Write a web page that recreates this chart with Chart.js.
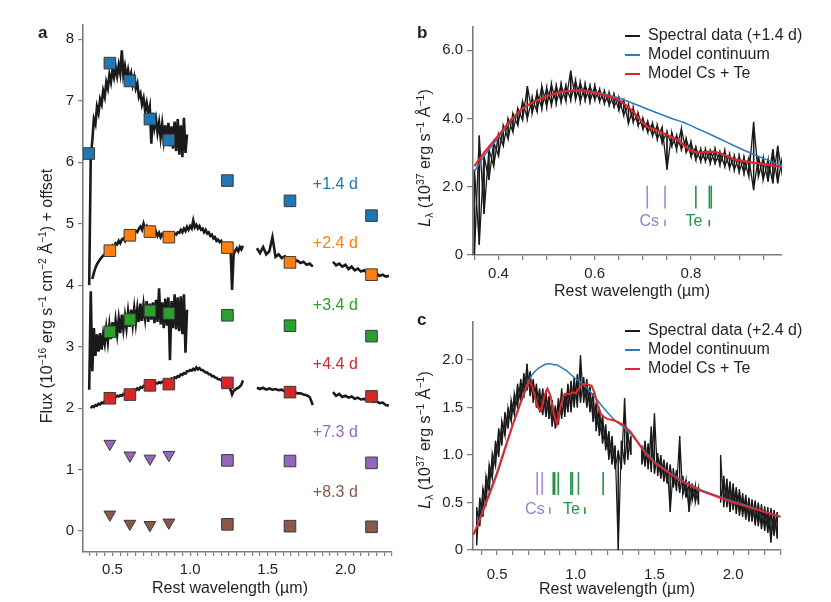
<!DOCTYPE html>
<html>
<head>
<meta charset="utf-8">
<title>Spectra and photometry</title>
<script src="https://cdn.jsdelivr.net/npm/chart.js@4.4.1/dist/chart.umd.min.js"></script>
<style>
  html, body { margin: 0; padding: 0; background: #fff; }
  #figure { position: relative; width: 831px; height: 602px; overflow: hidden;
            font-family: "Liberation Sans", Arial, Helvetica, sans-serif; color: #231f20; }
  #figure canvas { position: absolute; }
  .panel { position: absolute; font-weight: bold; font-size: 17px; line-height: 18px; }
  .xtitle, .ytitle { position: absolute; white-space: nowrap; font-size: 16px; line-height: 18px; }
  .xtitle { transform: translate(-50%, -50%); }
  .ytitle { transform: translate(-50%, -50%) rotate(-90deg); }
  sup { font-size: 0.65em; vertical-align: 0.55em; line-height: 0; }
  sub { font-size: 0.65em; vertical-align: -0.3em; line-height: 0; }
  .key { position: absolute; left: 625px; white-space: nowrap; font-size: 16px; line-height: 18px; transform: translateY(-50%); }
  .key i { display: inline-block; width: 15px; height: 1.6px; vertical-align: middle; margin-right: 8px; }
</style>
</head>
<body>
<div id="figure">
  <canvas id="chartA" width="410" height="602" style="left:0;top:0"></canvas>
  <canvas id="chartB" width="421" height="300" style="left:410px;top:0"></canvas>
  <canvas id="chartC" width="421" height="302" style="left:410px;top:300px"></canvas>

  <div class="panel" style="left:38px;top:24px">a</div>
  <div class="panel" style="left:417px;top:24px">b</div>
  <div class="panel" style="left:417px;top:311px">c</div>

  <div class="ytitle" style="left:47px;top:296px">Flux (10<sup>−16</sup> erg s<sup>−1</sup> cm<sup>−2</sup> Å<sup>−1</sup>) + offset</div>
  <div class="xtitle" style="left:230px;top:588px">Rest wavelength (µm)</div>

  <div class="ytitle" style="left:425px;top:158px"><i>L</i><sub>λ</sub> (10<sup>37</sup> erg s<sup>−1</sup> Å<sup>−1</sup>)</div>
  <div class="xtitle" style="left:632px;top:291px">Rest wavelength (µm)</div>
  <div class="key" style="top:35px"><i style="background:#1a1a1a"></i>Spectral data (+1.4 d)</div>
  <div class="key" style="top:54px"><i style="background:#2b7bba"></i>Model continuum</div>
  <div class="key" style="top:73px"><i style="background:#e3262b"></i>Model Cs + Te</div>

  <div class="ytitle" style="left:425px;top:440px"><i>L</i><sub>λ</sub> (10<sup>37</sup> erg s<sup>−1</sup> Å<sup>−1</sup>)</div>
  <div class="xtitle" style="left:617px;top:589px">Rest wavelength (µm)</div>
  <div class="key" style="top:330px"><i style="background:#1a1a1a"></i>Spectral data (+2.4 d)</div>
  <div class="key" style="top:349px"><i style="background:#2b7bba"></i>Model continuum</div>
  <div class="key" style="top:368px"><i style="background:#e3262b"></i>Model Cs + Te</div>
</div>

<script>
// ---------- panel a: photometry (squares, triangles = upper limits) ----------
const filterWave = [0.347, 0.483, 0.612, 0.741, 0.863, 1.240, 1.643, 2.168];
const phot14 = [6.14, 7.61, 7.32, 6.70, 6.36, 5.70, 5.37, 5.13];
const phot24 = [null, 4.56, 4.81, 4.87, 4.78, 4.61, 4.37, 4.17];
const phot34 = [null, 3.24, 3.44, 3.58, 3.54, 3.51, 3.34, 3.17];
const phot44 = [null, 2.16, 2.22, 2.37, 2.39, 2.41, 2.26, 2.19];
const phot73 = [null, 1.42, 1.23, 1.18, 1.24, 1.15, 1.14, 1.11];
const phot83 = [null, 0.27, 0.12, 0.10, 0.14, 0.11, 0.08, 0.07];
const upperLimit = [false, true, true, true, true, false, false, false];
const epochLabels = ['+1.4 d', '+2.4 d', '+3.4 d', '+4.4 d', '+7.3 d', '+8.3 d'];

// ---------- panel a: spectra (offset flux) ----------
const waveOptA = [0.35, 0.36, 0.37, 0.38, 0.39, 0.40, 0.41, 0.42, 0.43, 0.44,
                  0.45, 0.46, 0.47, 0.48, 0.49, 0.50, 0.51, 0.52, 0.53, 0.54,
                  0.55, 0.56, 0.57, 0.58, 0.59, 0.60, 0.61, 0.62, 0.63, 0.64,
                  0.65, 0.66, 0.67, 0.68, 0.69, 0.70, 0.71, 0.72, 0.73, 0.74,
                  0.75, 0.76, 0.77, 0.78, 0.79, 0.80, 0.81, 0.82, 0.83, 0.84,
                  0.85, 0.86, 0.87, 0.88, 0.89, 0.90, 0.91, 0.92, 0.93, 0.94,
                  0.95, 0.96, 0.97, 0.98];
const waveExtA = [0.99, 1.00, 1.01, 1.02, 1.03, 1.04, 1.05, 1.06, 1.07, 1.08,
                  1.09, 1.10, 1.11, 1.12, 1.13, 1.14, 1.15, 1.16, 1.17, 1.18,
                  1.19, 1.20, 1.21, 1.22, 1.23, 1.24, 1.25, 1.26, 1.27, 1.28,
                  1.29, 1.30, 1.31, 1.32, 1.33, 1.34];
const waveHA = [1.43, 1.45, 1.47, 1.49, 1.51, 1.53, 1.55, 1.57, 1.59, 1.61,
                1.63, 1.65, 1.67, 1.69, 1.71, 1.73, 1.75, 1.77, 1.79];
const waveKA = [1.92, 1.94, 1.96, 1.98, 2.00, 2.02, 2.04, 2.06, 2.08, 2.10,
                2.12, 2.14, 2.16, 2.18, 2.20, 2.22, 2.24, 2.26, 2.28];

const flux14 = [4.0, 6.1, 6.35, 6.7, 6.62, 6.9, 6.8, 7.02, 6.94, 7.16,
                7.06, 7.3, 7.2, 7.42, 7.3, 7.5, 7.38, 7.55, 7.4, 7.58,
                7.44, 7.82, 7.42, 7.56, 7.38, 7.5, 7.33, 7.44, 7.26, 7.38,
                7.2, 7.28, 7.06, 7.12, 6.94, 7.04, 6.84, 6.96, 6.78, 6.9,
                6.3, 6.8, 6.56, 6.7, 6.48, 6.64, 6.4, 6.62, 6.36, 6.6,
                6.3, 6.64, 6.26, 6.58, 6.22, 6.66, 6.18, 6.7, 6.12, 6.6,
                6.08, 6.72, 6.15, 6.45];

const flux24Opt = [null, null, 4.1, 4.2, 4.28, 4.34, 4.38, 4.42, 4.45, 4.48,
                   4.5, 4.55, 4.52, 4.58, 4.6, 4.64, 4.6, 4.68, 4.66, 4.72,
                   4.68, 4.74, 4.76, 4.72, 4.8, 4.76, 4.82, 4.8, 4.86, 4.84,
                   4.88, 4.86, 4.92, 4.95, 4.9, 5.0, 4.92, 4.96, 4.9, 4.93,
                   4.86, 4.9, 4.84, 4.87, 4.8, 4.85, 4.78, 4.83, 4.8, 4.82,
                   4.76, 4.82, 4.78, 4.81, 4.8, 4.84, 4.82, 4.86, 4.85, 4.9,
                   4.86, 4.92, 4.88, 4.95];
const flux24Ext = [4.9, 4.96, 4.92, 5.05, 4.94, 4.98, 4.92, 4.96, 4.9, 4.92,
                   4.86, 4.9, 4.84, 4.86, 4.8, 4.82, 4.76, 4.78, 4.72, 4.74,
                   4.7, 4.72, 4.66, 4.68, 4.62, 4.66, 4.6, 4.62, 3.92, 4.5,
                   4.56, 4.6, 4.55, 4.62, 4.58, 4.64];
const flux24H = [4.6, 4.52, 4.62, 4.5, 4.55, 4.78, 4.46, 4.5, 4.44, 4.47,
                 4.4, 4.44, 4.38, 4.4, 4.36, 4.38, 4.33, 4.35, 4.3];
const flux24K = [4.38, 4.32, 4.35, 4.3, 4.33, 4.26, 4.3, 4.24, 4.27, 4.22,
                 4.24, 4.2, 4.21, 4.17, 4.19, 4.15, 4.17, 4.14, 4.15];

const flux34 = [2.3, 3.9, 2.6, 3.3, 2.85, 3.2, 2.92, 3.22, 2.95, 3.2,
                3.05, 3.3, 3.08, 3.35, 3.12, 3.4, 3.15, 3.42, 3.2, 3.45,
                3.22, 3.52, 3.28, 3.5, 3.3, 3.56, 3.32, 3.6, 3.36, 3.62,
                3.38, 3.62, 3.4, 3.7, 3.42, 3.68, 3.46, 3.74, 3.4, 3.7,
                3.44, 3.72, 3.38, 3.76, 3.4, 3.95, 3.36, 3.72, 3.3, 3.78,
                3.34, 3.8, 2.78, 3.74, 3.3, 3.85, 3.28, 3.8, 3.25, 3.82,
                3.2, 3.85, 2.9, 3.6];

const flux44Opt = [null, 2.0, 2.03, 2.02, 2.05, 2.04, 2.07, 2.06, 2.09, 2.08,
                   2.11, 2.1, 2.14, 2.13, 2.16, 2.15, 2.17, 2.18, 2.2, 2.19,
                   2.21, 2.2, 2.23, 2.22, 2.25, 2.24, 2.26, 2.28, 2.27, 2.3,
                   2.29, 2.32, 2.3, 2.34, 2.33, 2.36, 2.34, 2.38, 2.36, 2.39,
                   2.38, 2.4, 2.39, 2.41, 2.4, 2.42, 2.41, 2.43, 2.42, 2.45,
                   2.43, 2.46, 2.44, 2.48, 2.46, 2.5, 2.49, 2.52, 2.51, 2.55,
                   2.54, 2.57, 2.56, 2.6];
const flux44Ext = [2.6, 2.62, 2.61, 2.64, 2.62, 2.66, 2.63, 2.65, 2.62, 2.62,
                   2.6, 2.58, 2.58, 2.55, 2.55, 2.52, 2.52, 2.5, 2.49, 2.47,
                   2.47, 2.45, 2.44, 2.43, 2.42, 2.4, 2.36, 2.3, 2.22, 2.28,
                   2.3, 2.32, 2.33, 2.35, 2.38, 2.45];
const flux44H = [2.33, 2.31, 2.33, 2.3, 2.32, 2.3, 2.31, 2.29, 2.3, 2.27,
                 2.28, 2.26, 2.27, 2.24, 2.24, 2.22, 2.21, 2.18, 2.05];
const flux44K = [2.26, 2.2, 2.23, 2.18, 2.2, 2.17, 2.19, 2.15, 2.17, 2.14,
                 2.15, 2.12, 2.13, 2.1, 2.11, 2.08, 2.09, 2.05, 2.04];

// ---------- panel b: +1.4 d spectrum (noise envelope) and models ----------
const waveB = [0.35, 0.36, 0.37, 0.38, 0.39, 0.40, 0.41, 0.42, 0.43, 0.44,
               0.45, 0.46, 0.47, 0.48, 0.49, 0.50, 0.51, 0.52, 0.53, 0.54,
               0.55, 0.56, 0.57, 0.58, 0.59, 0.60, 0.61, 0.62, 0.63, 0.64,
               0.65, 0.66, 0.67, 0.68, 0.69, 0.70, 0.71, 0.72, 0.73, 0.74,
               0.75, 0.76, 0.77, 0.78, 0.79, 0.80, 0.81, 0.82, 0.83, 0.84,
               0.85, 0.86, 0.87, 0.88, 0.89, 0.90, 0.91, 0.92, 0.93, 0.94,
               0.95, 0.96, 0.97, 0.98, 0.99];
const lowB = [0.0, 0.3, 1.2, 2.2, 2.6, 2.9, 3.2, 3.4, 3.6, 3.8,
              3.95, 4.0, 4.15, 4.2, 4.3, 4.35, 4.4, 4.45, 4.5, 4.5,
              4.55, 4.55, 4.5, 4.55, 4.5, 4.55, 4.5, 4.45, 4.4, 4.35,
              4.25, 4.1, 3.85, 3.9, 3.8, 3.7, 3.6, 3.5, 3.4, 3.3,
              2.5, 3.2, 3.1, 3.1, 3.0, 2.9, 2.8, 2.75, 2.75, 2.7,
              2.7, 2.65, 2.6, 2.55, 2.5, 2.45, 2.4, 2.3, 1.9, 2.3,
              2.2, 2.15, 2.1, 2.1, 2.3];
const highB = [2.5, 3.5, 2.9, 3.1, 3.3, 3.55, 3.8, 4.0, 4.15, 4.3,
               4.5, 4.95, 4.6, 4.75, 4.95, 4.9, 5.0, 4.95, 5.0, 4.95,
               5.4, 5.1, 5.05, 5.0, 4.95, 4.95, 4.85, 4.8, 4.75, 4.7,
               4.6, 4.55, 4.4, 4.3, 4.15, 4.0, 3.9, 3.85, 3.8, 3.75,
               3.6, 3.6, 3.5, 3.7, 3.4, 3.3, 3.15, 3.1, 3.1, 3.05,
               3.1, 3.0, 3.05, 2.95, 2.9, 2.9, 2.85, 2.85, 3.9, 2.9,
               2.85, 2.8, 3.1, 3.2, 2.9];
const modelWaveB = [0.35, 0.37, 0.40, 0.425, 0.45, 0.475, 0.50, 0.53, 0.56, 0.58,
                    0.60, 0.62, 0.645, 0.66, 0.68, 0.695, 0.71, 0.73, 0.745, 0.76,
                    0.775, 0.785, 0.80, 0.815, 0.83, 0.845, 0.86, 0.875, 0.89, 0.91,
                    0.93, 0.95, 0.97, 0.99];
const continuumB = [2.45, 2.9, 3.45, 3.92, 4.28, 4.5, 4.65, 4.78, 4.83, 4.82,
                    4.78, 4.72, 4.62, 4.55, 4.44, 4.36, 4.27, 4.16, 4.08, 4.0,
                    3.93, 3.88, 3.79, 3.69, 3.6, 3.5, 3.4, 3.3, 3.2, 3.07,
                    2.95, 2.83, 2.72, 2.6];
const csTeB = [2.6, 3.0, 3.5, 3.95, 4.3, 4.5, 4.65, 4.78, 4.82, 4.8,
               4.75, 4.68, 4.58, 4.45, 4.2, 3.95, 3.75, 3.65, 3.55, 3.45,
               3.35, 3.22, 3.05, 3.0, 3.02, 3.03, 2.98, 2.9, 2.8, 2.75,
               2.7, 2.67, 2.62, 2.58];
const csLinesB = [0.709, 0.746];
const teLinesB = [0.810, 0.838, 0.842];

// ---------- panel c: +2.4 d spectrum (noise envelope) and models ----------
const waveC1 = [0.37, 0.39, 0.41, 0.43, 0.45, 0.47, 0.49, 0.51, 0.53, 0.55,
                0.57, 0.59, 0.61, 0.63, 0.65, 0.67, 0.69, 0.71, 0.73, 0.75,
                0.77, 0.79, 0.81, 0.83, 0.85, 0.87, 0.89, 0.91, 0.93, 0.95,
                0.97, 0.99, 1.01, 1.03, 1.05, 1.07, 1.09, 1.11, 1.13, 1.15,
                1.17, 1.19, 1.21, 1.23, 1.25, 1.27, 1.29, 1.31, 1.33, 1.35];
const lowC1 = [0.05, 0.25, 0.35, 0.5, 0.62, 0.75, 0.88, 0.98, 1.1, 1.2,
               1.28, 1.35, 1.42, 1.5, 1.55, 1.6, 1.68, 1.62, 1.55, 1.5,
               1.45, 1.42, 1.4, 1.38, 1.3, 1.28, 1.32, 1.38, 1.4, 1.45,
               1.45, 1.5, 1.5, 1.55, 1.55, 1.5, 1.45, 1.35, 1.25, 1.2,
               1.12, 1.05, 0.95, 0.9, 0.85, 0.0, 0.85, 0.9, 0.95, 1.0];
const highC1 = [0.45, 0.55, 0.65, 0.78, 0.9, 1.02, 1.15, 1.28, 1.36, 1.45,
                1.5, 1.58, 1.65, 1.75, 1.8, 1.86, 1.96, 1.88, 1.8, 1.75,
                1.7, 1.7, 1.68, 1.62, 1.58, 1.52, 1.6, 1.7, 1.65, 1.75,
                1.78, 1.82, 1.85, 2.05, 1.82, 1.8, 1.72, 1.65, 1.55, 1.5,
                1.42, 1.32, 1.25, 1.2, 1.1, 1.05, 1.15, 1.6, 1.25, 1.2];
const waveC2 = [1.42, 1.44, 1.46, 1.48, 1.50, 1.52, 1.54, 1.56, 1.58, 1.60,
                1.62, 1.64, 1.66, 1.68, 1.70, 1.72, 1.74, 1.76, 1.78];
const lowC2 = [0.9, 0.88, 0.85, 0.82, 0.8, 0.78, 0.75, 0.72, 0.7, 0.4,
               0.66, 0.62, 0.6, 0.58, 0.55, 0.4, 0.52, 0.5, 0.48];
const highC2 = [1.1, 1.15, 1.12, 1.3, 1.44, 1.02, 1.0, 0.95, 0.92, 0.9,
                0.86, 0.84, 1.2, 0.78, 0.74, 0.72, 0.7, 0.68, 0.66];
const waveC3 = [1.92, 1.94, 1.96, 1.98, 2.00, 2.02, 2.04, 2.06, 2.08, 2.10,
                2.12, 2.14, 2.16, 2.18, 2.20, 2.22, 2.24, 2.26, 2.28];
const lowC3 = [0.5, 0.45, 0.45, 0.4, 0.42, 0.38, 0.36, 0.35, 0.32, 0.3,
               0.3, 0.26, 0.25, 0.22, 0.2, 0.18, 0.08, 0.15, 0.12];
const highC3 = [1.0, 0.78, 0.75, 0.72, 0.7, 0.66, 0.64, 0.6, 0.58, 0.55,
                0.53, 0.52, 0.5, 0.48, 0.46, 0.45, 0.44, 0.42, 0.4];
const modelWaveC = [0.35, 0.40, 0.45, 0.50, 0.55, 0.60, 0.65, 0.68, 0.70, 0.72,
                    0.74, 0.76, 0.78, 0.80, 0.82, 0.84, 0.86, 0.88, 0.90, 0.92,
                    0.94, 0.96, 0.98, 1.00, 1.02, 1.04, 1.06, 1.08, 1.10, 1.12,
                    1.14, 1.16, 1.18, 1.20, 1.25, 1.30, 1.35, 1.40, 1.45, 1.50,
                    1.60, 1.70, 1.80, 1.90, 2.00, 2.10, 2.20, 2.30];
const continuumC = [0.16, 0.38, 0.6, 0.82, 1.08, 1.32, 1.56, 1.7, 1.78, 1.84,
                    1.88, 1.91, 1.93, 1.95, 1.96, 1.96, 1.95, 1.95, 1.93, 1.91,
                    1.89, 1.86, 1.83, 1.8, 1.78, 1.75, 1.72, 1.69, 1.65, 1.61,
                    1.57, 1.53, 1.49, 1.45, 1.36, 1.3, 1.22, 1.12, 1.02, 0.93,
                    0.81, 0.71, 0.63, 0.57, 0.51, 0.46, 0.4, 0.35];
const csTeC = [0.16, 0.36, 0.58, 0.8, 1.06, 1.32, 1.55, 1.68, 1.77, 1.74,
               1.62, 1.5, 1.46, 1.62, 1.70, 1.62, 1.44, 1.32, 1.48, 1.62,
               1.65, 1.64, 1.66, 1.65, 1.7, 1.74, 1.75, 1.74, 1.73, 1.65,
               1.52, 1.43, 1.4, 1.38, 1.36, 1.32, 1.24, 1.12, 1.0, 0.92,
               0.8, 0.7, 0.62, 0.56, 0.5, 0.45, 0.4, 0.35];
const csLinesC = [0.755, 0.787];
const teLinesC = [0.857, 0.866, 0.889, 0.969, 0.979, 1.017, 1.174];

// ---------- axis ticks ----------
const aXTicks = [0.35, 0.40, 0.45, 0.50, 0.55, 0.60, 0.65, 0.70, 0.75, 0.80,
                 0.85, 0.90, 0.95, 1.00, 1.05, 1.10, 1.15, 1.20, 1.25, 1.30,
                 1.35, 1.40, 1.45, 1.50, 1.55, 1.60, 1.65, 1.70, 1.75, 1.80,
                 1.85, 1.90, 1.95, 2.00, 2.05, 2.10, 2.15, 2.20, 2.25, 2.30];
const aXLabelAt = [0.5, 1.0, 1.5, 2.0];
const aXLabels = ['0.5', '1.0', '1.5', '2.0'];
const aYTicks = [0, 1, 2, 3, 4, 5, 6, 7, 8];
const aYLabels = ['0', '1', '2', '3', '4', '5', '6', '7', '8'];

const bXTicks = [0.35, 0.40, 0.45, 0.50, 0.55, 0.60, 0.65, 0.70, 0.75, 0.80, 0.85, 0.90, 0.95];
const bXLabelAt = [0.4, 0.6, 0.8];
const bXLabels = ['0.4', '0.6', '0.8'];
const bYTicks = [0, 2, 4, 6];
const bYLabels = ['0', '2.0', '4.0', '6.0'];

const cXTicks = [0.4, 0.5, 0.6, 0.7, 0.8, 0.9, 1.0, 1.1, 1.2, 1.3,
                 1.4, 1.5, 1.6, 1.7, 1.8, 1.9, 2.0, 2.1, 2.2, 2.3];
const cXLabelAt = [0.5, 1.0, 1.5, 2.0];
const cXLabels = ['0.5', '1.0', '1.5', '2.0'];
const cYTicks = [0, 0.5, 1.0, 1.5, 2.0];
const cYLabels = ['0', '0.5', '1.0', '1.5', '2.0'];

const AXIS_GREY = '#7c7c7c';
const TEXT_COLOUR = '#231f20';
const SPEC_BLACK = '#1a1a1a';
const MODEL_BLUE = '#2b7bba';
const MODEL_RED = '#e3262b';
const CS_PURPLE = '#a68acf';
const TE_GREEN = '#24924a';
const epochColours = ['#1f77b4', '#ff7f0e', '#2ca02c', '#d62728', '#9467bd', '#8c564b'];

Chart.defaults.font.family = '"Liberation Sans", Arial, Helvetica, sans-serif';
Chart.defaults.color = TEXT_COLOUR;

function pts(wave, vals) {
    return wave.map((w, i) => ({ x: w, y: vals[i] }));
}

// join separate wavelength segments with a gap between them
function joinSegs(...segs) {
    const out = [];
    segs.forEach((s, k) => {
        if (k > 0) out.push({ x: s[0].x, y: null });
        out.push(...s);
    });
    return out;
}

// noisy spectrum drawn as a low/high envelope sawtooth; flip reverses the pairs
function band(wave, lo, hi, flip) {
    const out = [];
    wave.forEach((w, i) => {
        if (flip) out.push({ x: w, y: hi[i] }, { x: w, y: lo[i] });
        else out.push({ x: w, y: lo[i] }, { x: w, y: hi[i] });
    });
    return out;
}

function linearAxis(min, max, tickValues, labelAt, labelText, o) {
    return {
        type: 'linear',
        min: min,
        max: max,
        afterBuildTicks: scale => { scale.ticks = tickValues.map(v => ({ value: v })); },
        afterFit: scale => {
            if (scale.isHorizontal()) scale.height = o.size;
            else scale.width = o.size;
        },
        grid: { drawOnChartArea: false, drawTicks: true, tickLength: o.tickLength, color: AXIS_GREY, lineWidth: 1.2 },
        border: { display: true, color: AXIS_GREY, width: 1.6 },
        ticks: {
            autoSkip: false,
            maxRotation: 0,
            padding: o.padding,
            font: { size: 15 },
            color: TEXT_COLOUR,
            callback: value => {
                const k = labelAt.findIndex(m => Math.abs(m - value) < 1e-6);
                return k >= 0 ? labelText[k] : '';
            }
        }
    };
}

// draws short text notes at data coordinates
function notesPlugin(items) {
    return {
        id: 'notes',
        afterDatasetsDraw(chart) {
            const { ctx, scales } = chart;
            ctx.save();
            ctx.font = '16px "Liberation Sans", Arial, sans-serif';
            ctx.textAlign = 'center';
            ctx.textBaseline = 'middle';
            items.forEach(n => {
                ctx.fillStyle = n.color;
                ctx.fillText(n.text, scales.x.getPixelForValue(n.x), scales.y.getPixelForValue(n.y));
            });
            ctx.restore();
        }
    };
}

function lineDataset(data, colour, width, order) {
    return {
        data: data,
        borderColor: colour,
        borderWidth: width,
        pointRadius: 0,
        tension: 0,
        spanGaps: false,
        order: order
    };
}

function photDataset(vals, colour, hasLimits) {
    const isLimit = i => hasLimits && upperLimit[i];
    return {
        data: pts(filterWave, vals),
        showLine: false,
        backgroundColor: colour,
        borderColor: '#3a3a3a',
        borderWidth: 1,
        pointStyle: ctx => isLimit(ctx.dataIndex) ? 'triangle' : 'rect',
        pointRotation: ctx => isLimit(ctx.dataIndex) ? 180 : 0,
        pointRadius: ctx => isLimit(ctx.dataIndex) ? 6.8 : 8.2,
        order: 0
    };
}

// vertical marker lines for Cs and Te features
function markerDatasets(waves, yLow, yHigh, colour) {
    return waves.map(w => lineDataset([{ x: w, y: yLow }, { x: w, y: yHigh }], colour, 1.6, 1));
}

function baseOptions(scales, padding) {
    return {
        responsive: false,
        animation: false,
        devicePixelRatio: 1,
        events: [],
        layout: { padding: padding },
        plugins: { legend: { display: false }, tooltip: { enabled: false } },
        scales: scales
    };
}

document.addEventListener("DOMContentLoaded", function () {
    // Panel a
    const specA = [
        pts(waveOptA, flux14),
        joinSegs(pts(waveOptA.concat(waveExtA), flux24Opt.concat(flux24Ext)), pts(waveHA, flux24H), pts(waveKA, flux24K)),
        pts(waveOptA, flux34),
        joinSegs(pts(waveOptA.concat(waveExtA), flux44Opt.concat(flux44Ext)), pts(waveHA, flux44H), pts(waveKA, flux44K))
    ];
    const labelY = [5.63, 4.67, 3.67, 2.70, 1.60, 0.63];

    new Chart(document.getElementById('chartA').getContext('2d'), {
        type: 'line',
        data: {
            datasets: [
                photDataset(phot14, epochColours[0], false),
                photDataset(phot24, epochColours[1], false),
                photDataset(phot34, epochColours[2], false),
                photDataset(phot44, epochColours[3], false),
                photDataset(phot73, epochColours[4], true),
                photDataset(phot83, epochColours[5], true)
            ].concat(specA.map(d => lineDataset(d, SPEC_BLACK, 2.6, 1)))
        },
        options: baseOptions({
            x: linearAxis(0.31, 2.30, aXTicks, aXLabelAt, aXLabels, { size: 50, tickLength: 4, padding: 5 }),
            y: linearAxis(-0.34, 8.23, aYTicks, aYTicks, aYLabels, { size: 83, tickLength: 5, padding: 4 })
        }, { left: 0, top: 25, right: 18, bottom: 0 }),
        plugins: [notesPlugin(epochLabels.map((t, i) => ({ text: t, x: 1.935, y: labelY[i], color: epochColours[i] })))]
    });

    // Panel b
    new Chart(document.getElementById('chartB').getContext('2d'), {
        type: 'line',
        data: {
            datasets: [
                lineDataset(pts(modelWaveB, csTeB), MODEL_RED, 2.2, 0),
                lineDataset(pts(modelWaveB, continuumB), MODEL_BLUE, 1.5, 1),
                lineDataset(band(waveB, lowB, highB, false), SPEC_BLACK, 1.3, 2),
                lineDataset(band(waveB, lowB, highB, true), SPEC_BLACK, 1.3, 2)
            ].concat(markerDatasets(csLinesB, 1.36, 2.03, CS_PURPLE))
             .concat(markerDatasets(teLinesB, 1.36, 2.03, TE_GREEN))
             .concat(markerDatasets([0.746], 0.84, 1.03, CS_PURPLE))
             .concat(markerDatasets([0.838], 0.84, 1.03, TE_GREEN))
        },
        options: baseOptions({
            x: linearAxis(0.347, 0.989, bXTicks, bXLabelAt, bXLabels, { size: 45, tickLength: 5, padding: 5 }),
            y: linearAxis(0, 6.68, bYTicks, bYTicks, bYLabels, { size: 63, tickLength: 6, padding: 4 })
        }, { left: 0, top: 27, right: 49, bottom: 0 }),
        plugins: [notesPlugin([
            { text: 'Cs', x: 0.713, y: 0.97, color: '#9a7cc6' },
            { text: 'Te', x: 0.806, y: 0.97, color: TE_GREEN }
        ])]
    });

    // Panel c
    const specC = flip => joinSegs(band(waveC1, lowC1, highC1, flip), band(waveC2, lowC2, highC2, flip), band(waveC3, lowC3, highC3, flip));
    new Chart(document.getElementById('chartC').getContext('2d'), {
        type: 'line',
        data: {
            datasets: [
                lineDataset(pts(modelWaveC, csTeC), MODEL_RED, 2.0, 0),
                lineDataset(pts(modelWaveC, continuumC), MODEL_BLUE, 1.5, 1),
                lineDataset(specC(false), SPEC_BLACK, 1.2, 2),
                lineDataset(specC(true), SPEC_BLACK, 1.2, 2)
            ].concat(markerDatasets(csLinesC, 0.58, 0.82, CS_PURPLE))
             .concat(markerDatasets(teLinesC, 0.58, 0.82, TE_GREEN))
             .concat(markerDatasets([0.835], 0.38, 0.45, CS_PURPLE))
             .concat(markerDatasets([1.058], 0.38, 0.45, TE_GREEN))
        },
        options: baseOptions({
            x: linearAxis(0.347, 2.304, cXTicks, cXLabelAt, cXLabels, { size: 52, tickLength: 5, padding: 11 }),
            y: linearAxis(0, 2.40, cYTicks, cYTicks, cYLabels, { size: 63, tickLength: 6, padding: 4 })
        }, { left: 0, top: 22, right: 50, bottom: 0 }),
        plugins: [notesPlugin([
            { text: 'Cs', x: 0.74, y: 0.43, color: '#9a7cc6' },
            { text: 'Te', x: 0.973, y: 0.43, color: TE_GREEN }
        ])]
    });
});
</script>
</body>
</html>
